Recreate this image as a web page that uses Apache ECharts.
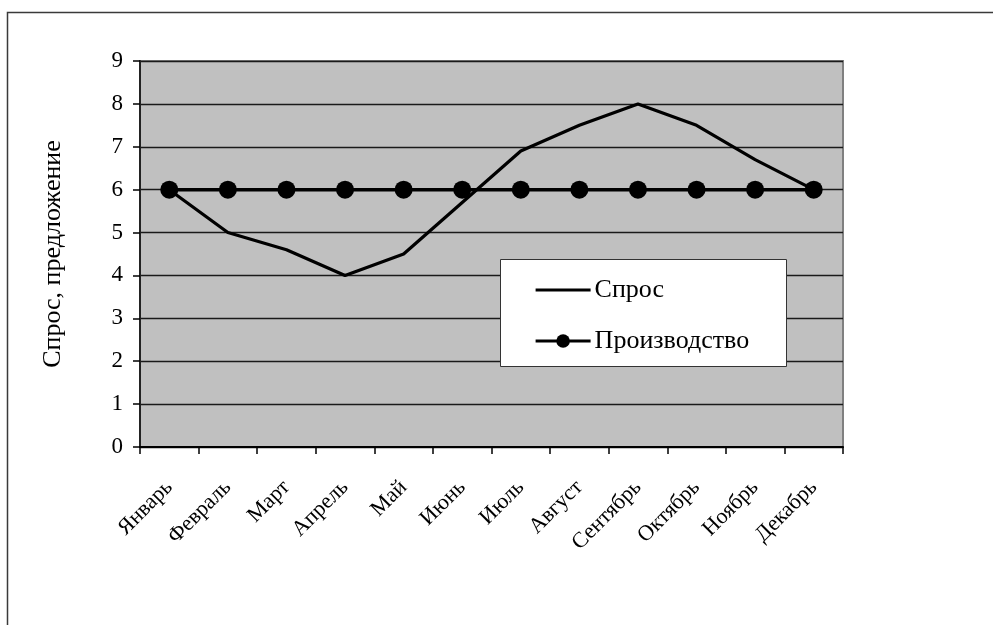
<!DOCTYPE html>
<html>
<head>
<meta charset="utf-8">
<script src="https://cdn.jsdelivr.net/npm/echarts@6/dist/echarts.min.js"></script>
<style>
  html, body { margin: 0; padding: 0; background: #fff; }
  #chart { width: 993px; height: 625px; }
</style>
</head>
<body>
<div id="chart"></div>
<script>
// Months along the category axis
const months = ['Январь', 'Февраль', 'Март', 'Апрель', 'Май', 'Июнь',
                'Июль', 'Август', 'Сентябрь', 'Октябрь', 'Ноябрь', 'Декабрь'];
// Demand by month
const demand = [6, 5, 4.6, 4, 4.5, 5.7, 6.9, 7.5, 8, 7.5, 6.7, 6];
// Production by month (flat)
const production = [6, 6, 6, 6, 6, 6, 6, 6, 6, 6, 6, 6];
// Value axis range
const yMin = 0, yMax = 9, yStep = 1;

const serif = '"Liberation Serif", "Times New Roman", serif';
const chart = echarts.init(document.getElementById('chart'), null, { renderer: 'canvas' });

// Plain line icon for the demand legend entry (empty subpaths pin the box height)
const plainLineIcon = 'path://M0,0L0,0ZM0,17L0,17ZM0,7L55,7L55,10L0,10Z';

chart.setOption({
  animation: false,
  backgroundColor: '#fff',
  textStyle: { fontFamily: serif, color: '#000' },
  grid: {
    left: 140, top: 61, right: 150, bottom: 178,
    show: true, backgroundColor: '#c0c0c0', borderColor: '#808080', borderWidth: 2
  },
  graphic: [
    // outer chart frame
    { type: 'rect', z: 0, silent: true,
      shape: { x: 7.5, y: 12.5, width: 1100, height: 800 },
      style: { fill: null, stroke: '#3a3a3a', lineWidth: 1.5 } },
    // legend box
    { type: 'rect', z: 3, silent: true,
      shape: { x: 500.5, y: 259.5, width: 286, height: 107 },
      style: { fill: '#fff', stroke: '#333', lineWidth: 1 } }
  ],
  legend: {
    orient: 'vertical',
    left: 500, top: 259,
    padding: [18, 20, 14, 34],
    itemWidth: 55, itemHeight: 17, itemGap: 25,
    z: 5,
    lineStyle: { width: 3.2, color: '#000' },
    textStyle: { fontFamily: serif, fontSize: 26, lineHeight: 26, color: '#000', padding: [0, 0, 0, -1] },
    data: [
      { name: 'Спрос', icon: plainLineIcon },
      { name: 'Производство' }
    ]
  },
  xAxis: {
    type: 'category',
    data: months,
    boundaryGap: true,
    axisLine: { show: true, lineStyle: { color: '#000', width: 2 } },
    axisTick: { show: true, length: 7, lineStyle: { color: '#000', width: 1.5 } },
    axisLabel: {
      rotate: 45, interval: 0, margin: 37,
      fontFamily: serif, fontSize: 22, color: '#000'
    },
    splitLine: { show: false }
  },
  yAxis: {
    type: 'value',
    min: yMin, max: yMax, interval: yStep,
    name: 'Спрос, предложение',
    nameLocation: 'middle',
    nameGap: 74,
    nameTextStyle: { fontFamily: serif, fontSize: 26, color: '#000' },
    axisLine: { show: true, lineStyle: { color: '#222', width: 2 } },
    axisTick: { show: true, length: 7, lineStyle: { color: '#000', width: 1.5 } },
    axisLabel: { margin: 17, fontFamily: serif, fontSize: 23, color: '#000' },
    splitLine: { show: true, lineStyle: { color: '#1a1a1a', width: 1.3 } }
  },
  series: [
    {
      name: 'Спрос',
      type: 'line',
      data: demand,
      symbol: 'none',
      lineStyle: { color: '#000', width: 3.2 },
      itemStyle: { color: '#000' },
      z: 2
    },
    {
      name: 'Производство',
      type: 'line',
      data: production,
      symbol: 'circle',
      symbolSize: 18,
      lineStyle: { color: '#000', width: 3.5 },
      itemStyle: { color: '#000' },
      z: 3
    }
  ]
});
</script>
</body>
</html>
